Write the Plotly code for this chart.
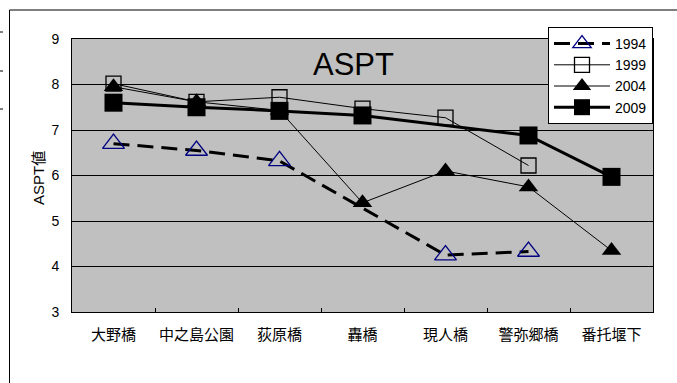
import plotly.graph_objects as go

# Survey sites along the river (upstream -> downstream)
sites = ["大野橋", "中之島公園", "荻原橋", "轟橋", "現人橋", "警弥郷橋", "番托堰下"]

# ASPT values per survey year (None = not surveyed)
aspt_1994 = [6.7, 6.55, 6.32, None, 4.25, 4.33, None]
aspt_1999 = [8.02, 7.62, 7.72, 7.47, 7.27, 6.22, None]
aspt_2004 = [7.95, 7.62, 7.43, 5.4, 6.1, 5.75, 4.35]
aspt_2009 = [7.6, 7.5, 7.42, 7.32, None, 6.88, 5.97]

y_ticks = [3, 4, 5, 6, 7, 8, 9]

W, H = 677, 383
L, R, T, B = 72, 24, 39, 71
PW, PH = W - L - R, H - T - B


def px_x(x):
    return (x - L) / PW


def px_y(y):
    return (H - B - y) / PH


fig = go.Figure()

fig.add_trace(go.Scatter(
    x=sites, y=aspt_1994, name="1994", mode="lines+markers",
    connectgaps=True,
    line=dict(color="black", width=3, dash="16px,8px"),
    marker=dict(symbol="triangle-up-open", size=19,
                color="#000080", line=dict(color="#000080", width=1.3)),
))
fig.add_trace(go.Scatter(
    x=sites, y=aspt_1999, name="1999", mode="lines+markers",
    line=dict(color="black", width=1),
    marker=dict(symbol="square-open", size=15,
                color="black", line=dict(color="black", width=1.3)),
))
fig.add_trace(go.Scatter(
    x=sites, y=aspt_2004, name="2004", mode="lines+markers",
    line=dict(color="black", width=1),
    marker=dict(symbol="triangle-up", size=17, color="black"),
))
fig.add_trace(go.Scatter(
    x=sites, y=aspt_2009, name="2009", mode="lines+markers",
    connectgaps=True,
    line=dict(color="black", width=3),
    marker=dict(symbol="square", size=18, color="black"),
))

# Outer chart frame and small marks at the left edge
shapes = [
    dict(type="rect", xref="paper", yref="paper",
         x0=px_x(9.5), x1=px_x(690), y0=px_y(400), y1=px_y(10),
         line=dict(color="black", width=1), fillcolor="rgba(0,0,0,0)", layer="below"),
]
for yy in [32, 71, 109]:
    shapes.append(dict(type="line", xref="paper", yref="paper",
                       x0=px_x(0), x1=px_x(3), y0=px_y(yy), y1=px_y(yy),
                       line=dict(color="black", width=1)))

fig.update_layout(
    width=W, height=H,
    margin=dict(l=L, r=R, t=T, b=B, pad=0),
    paper_bgcolor="white",
    plot_bgcolor="#C0C0C0",
    font=dict(family="Liberation Sans, Noto Sans CJK JP, sans-serif", size=14, color="black"),
    showlegend=True,
    legend=dict(
        x=px_x(548), y=px_y(27), xanchor="left", yanchor="top",
        bgcolor="white", bordercolor="black", borderwidth=1,
        font=dict(size=14, family="Liberation Sans, sans-serif"),
        tracegroupgap=0, itemwidth=56,
    ),
    shapes=shapes,
    annotations=[
        dict(text="ASPT", xref="paper", yref="paper",
             x=px_x(353), y=px_y(64), xanchor="center", yanchor="middle",
             showarrow=False, font=dict(size=31, family="Liberation Sans, sans-serif")),
        dict(text="ASPT値", xref="paper", yref="paper",
             x=px_x(38), y=px_y(178), xanchor="center", yanchor="middle",
             textangle=-90, showarrow=False,
             font=dict(size=15, family="Liberation Sans, Noto Sans CJK JP, sans-serif")),
    ],
)

fig.update_xaxes(
    type="category", categoryorder="array", categoryarray=sites,
    range=[-0.5, len(sites) - 0.5],
    showgrid=False, zeroline=False, automargin=False,
    showline=True, linecolor="black", linewidth=1, mirror=True,
    ticks="inside", tickson="boundaries", ticklen=4, tickcolor="black",
    tickangle=0, ticklabelstandoff=9,
    tickfont=dict(family="Noto Sans CJK JP, sans-serif", size=15),
)
fig.update_yaxes(
    range=[3, 9], tickvals=y_ticks, automargin=False,
    showgrid=True, gridcolor="black", gridwidth=1, zeroline=False,
    showline=True, linecolor="black", linewidth=1, mirror=True,
    ticks="", ticklabelstandoff=9,
    tickfont=dict(family="Liberation Sans, sans-serif", size=14),
)

fig.write_html("out.html")
